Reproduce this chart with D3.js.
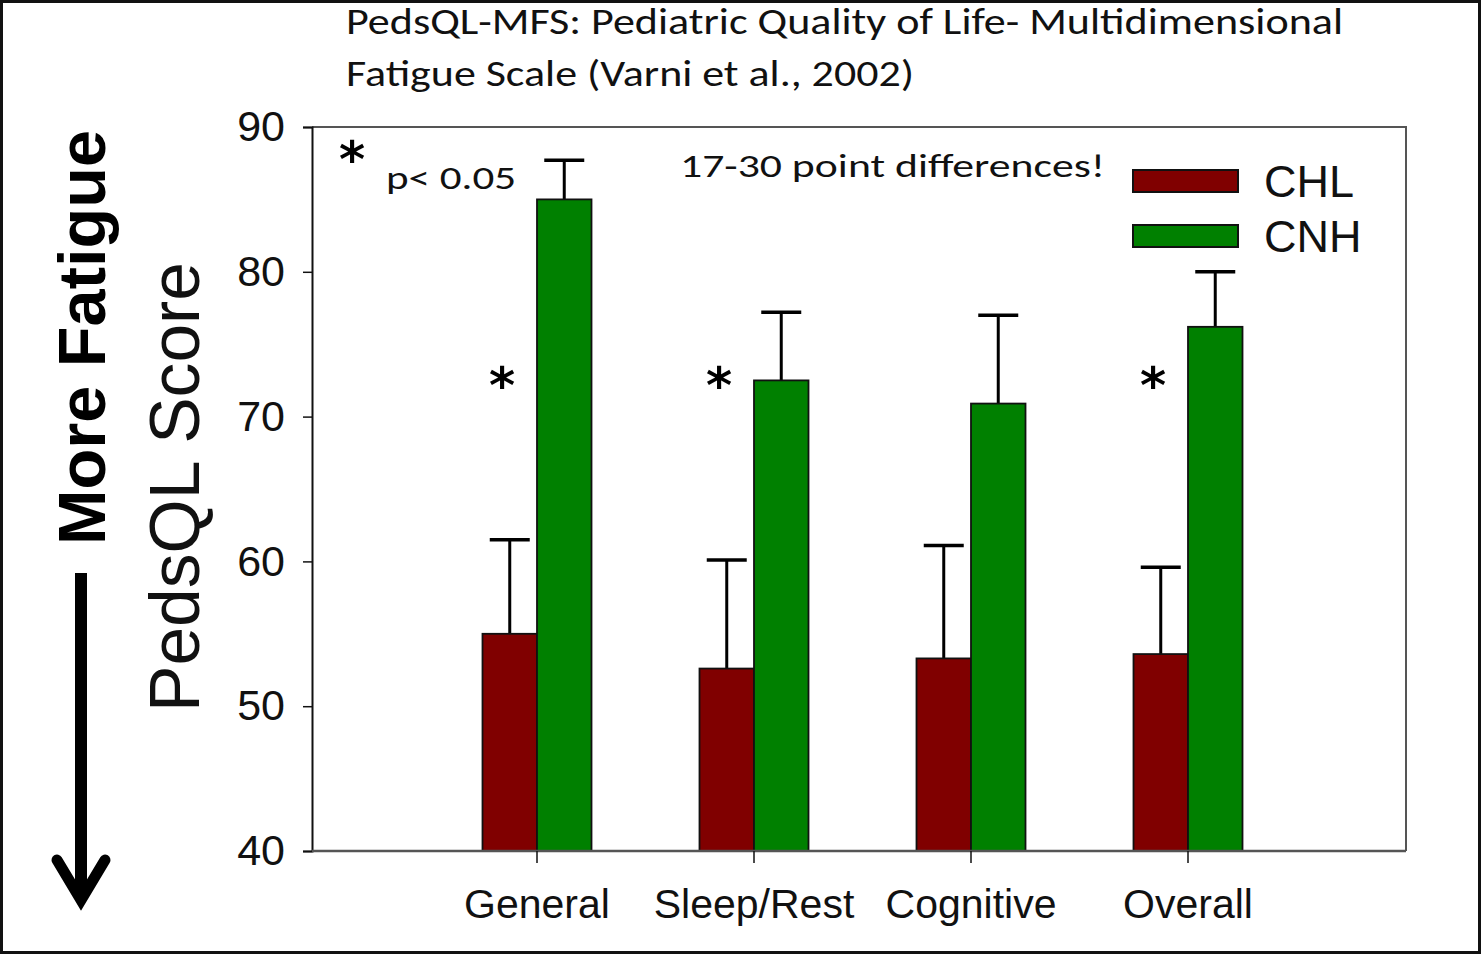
<!DOCTYPE html>
<html>
<head>
<meta charset="utf-8">
<script src="https://cdn.jsdelivr.net/npm/d3@7/dist/d3.min.js"></script>
<style>
  html, body { margin: 0; padding: 0; background: #fff; }
  svg { display: block; }
</style>
</head>
<body>
<svg id="chart" width="1481" height="954"></svg>
<script>
// PedsQL multidimensional fatigue scores, children with hearing loss vs normal hearing
const categories = ["General", "Sleep/Rest", "Cognitive", "Overall"];
const seriesNames = ["CHL", "CNH"];
const chlMeans = [55.0, 52.6, 53.3, 53.6];
const chlUpper = [61.5, 60.1, 61.1, 59.6];
const cnhMeans = [85.0, 72.5, 70.9, 76.2];
const cnhUpper = [87.7, 77.2, 77.0, 80.0];
const significant = [true, true, false, true];
const yTicks = [40, 50, 60, 70, 80, 90];
const colors = ["#800000", "#008000"];

const svg = d3.select("#chart");
const W = 1481, H = 954;
const arial = "Liberation Sans, Arial, sans-serif";
const calibri = "Carlito, Lato, 'Noto Sans', sans-serif";

// outer frame
svg.append("rect").attr("x", 1.5).attr("y", 1.5).attr("width", W - 3).attr("height", H - 3)
  .attr("fill", "#fff").attr("stroke", "#111").attr("stroke-width", 3);

const plot = { left: 312, right: 1406, top: 127, bottom: 851 };

const y = d3.scaleLinear().domain([40, 90]).range([plot.bottom, plot.top]);
const x = d3.scaleBand().domain(categories).range([428.5, 1296.5]).paddingInner(0).paddingOuter(0);
const inner = d3.scaleBand().domain(seriesNames).range([0, 109]);
const groupOffset = (x.bandwidth() - 109) / 2;

// plot frame (top and right)
svg.append("path")
  .attr("d", `M${plot.left},${plot.top}H${plot.right}V${plot.bottom}`)
  .attr("fill", "none").attr("stroke", "#555").attr("stroke-width", 2);

// y axis
const yAxis = svg.append("g").attr("transform", `translate(${plot.left},0)`)
  .call(d3.axisLeft(y).tickValues(yTicks).tickSize(9).tickPadding(18).tickFormat(d3.format("d")));
yAxis.select(".domain").attr("stroke", "#111").attr("stroke-width", 2);
yAxis.selectAll(".tick line").attr("stroke", "#111").attr("stroke-width", 1.5);
yAxis.selectAll(".tick text")
  .attr("font-family", arial).attr("font-size", 43).attr("fill", "#111");

// bars
const rows = categories.map((c, i) => ({
  cat: c,
  vals: [
    { s: "CHL", v: chlMeans[i], up: chlUpper[i] },
    { s: "CNH", v: cnhMeans[i], up: cnhUpper[i] }
  ]
}));

const groups = svg.append("g").selectAll("g").data(rows).join("g")
  .attr("transform", d => `translate(${x(d.cat) + groupOffset},0)`);

// error bars (upper only), drawn under the bars
groups.selectAll("g.err").data(d => d.vals).join("g").attr("class", "err").each(function(d) {
  const g = d3.select(this);
  const cx = inner(d.s) + inner.bandwidth() / 2;
  g.append("line").attr("x1", cx).attr("x2", cx).attr("y1", y(d.v)).attr("y2", y(d.up))
    .attr("stroke", "#000").attr("stroke-width", 3);
  g.append("line").attr("x1", cx - 20).attr("x2", cx + 20).attr("y1", y(d.up)).attr("y2", y(d.up))
    .attr("stroke", "#000").attr("stroke-width", 3.5);
});

groups.selectAll("rect").data(d => d.vals).join("rect")
  .attr("x", d => inner(d.s))
  .attr("y", d => y(d.v))
  .attr("width", inner.bandwidth())
  .attr("height", d => y(40) - y(d.v))
  .attr("fill", (d, i) => colors[i])
  .attr("stroke", "#111").attr("stroke-width", 1.8);

// x axis
const xAxis = svg.append("g").attr("transform", `translate(0,${plot.bottom})`)
  .call(d3.axisBottom(x).tickSize(12).tickPadding(26));
xAxis.select(".domain").attr("d", `M${plot.left},0H${plot.right}`).attr("stroke", "#555").attr("stroke-width", 2.5);
xAxis.selectAll(".tick line").attr("stroke", "#111").attr("stroke-width", 1.5);
xAxis.selectAll(".tick text")
  .attr("font-family", arial).attr("font-size", 41).attr("fill", "#111");

// significance asterisks to the left of each significant pair
svg.append("g").selectAll("text").data(categories.filter((c, i) => significant[i])).join("text")
  .attr("x", c => x(c) + x.bandwidth() / 2 - 35)
  .attr("y", 403)
  .attr("text-anchor", "middle")
  .attr("font-family", "DejaVu Sans, sans-serif").attr("font-weight", "bold").attr("font-size", 50)
  .attr("fill", "#000").text("*");

// annotation: asterisk + p value
svg.append("text").attr("x", 352).attr("y", 177).attr("text-anchor", "middle")
  .attr("font-family", "DejaVu Sans, sans-serif").attr("font-weight", "bold").attr("font-size", 50)
  .attr("fill", "#000").text("*");

function fitText(sel, width) {
  sel.attr("textLength", width).attr("lengthAdjust", "spacingAndGlyphs");
  return sel;
}

fitText(svg.append("text").attr("x", 386).attr("y", 189)
  .attr("font-family", calibri).attr("font-size", 33).attr("fill", "#111").text("p< 0.05"), 130);

fitText(svg.append("text").attr("x", 680).attr("y", 177)
  .attr("font-family", calibri).attr("font-size", 33).attr("fill", "#111").text("17-30 point differences!"), 425);

// title
fitText(svg.append("text").attr("x", 346).attr("y", 34)
  .attr("font-family", calibri).attr("font-size", 36).attr("fill", "#111")
  .text("PedsQL-MFS: Pediatric Quality of Life- Multidimensional"), 997);
fitText(svg.append("text").attr("x", 346).attr("y", 86)
  .attr("font-family", calibri).attr("font-size", 36).attr("fill", "#111")
  .text("Fatigue Scale (Varni et al., 2002)"), 568);

// legend
const legend = svg.append("g");
seriesNames.forEach((s, i) => {
  const ly = 170 + i * 55;
  legend.append("rect").attr("x", 1133).attr("y", ly).attr("width", 105).attr("height", 22)
    .attr("fill", colors[i]).attr("stroke", "#111").attr("stroke-width", 2);
  legend.append("text").attr("x", 1264).attr("y", ly + 27)
    .attr("font-family", arial).attr("font-size", 45).attr("fill", "#111")
    .text(s);
});

// y axis title
fitText(svg.append("text").attr("transform", "translate(199,712) rotate(-90)")
  .attr("font-family", arial).attr("font-size", 70).attr("fill", "#111")
  .text("PedsQL Score"), 450);

// direction cue
fitText(svg.append("text").attr("transform", "translate(105,545) rotate(-90)")
  .attr("font-family", arial)
  .attr("font-weight", "bold").attr("font-size", 66).attr("fill", "#000")
  .text("More Fatigue"), 415);

svg.append("line").attr("x1", 81).attr("x2", 81).attr("y1", 573).attr("y2", 898)
  .attr("stroke", "#000").attr("stroke-width", 12);
svg.append("path").attr("d", "M57,860L81,900L105,860")
  .attr("fill", "none").attr("stroke", "#000").attr("stroke-width", 11)
  .attr("stroke-linecap", "round").attr("stroke-linejoin", "miter");
</script>
</body>
</html>
